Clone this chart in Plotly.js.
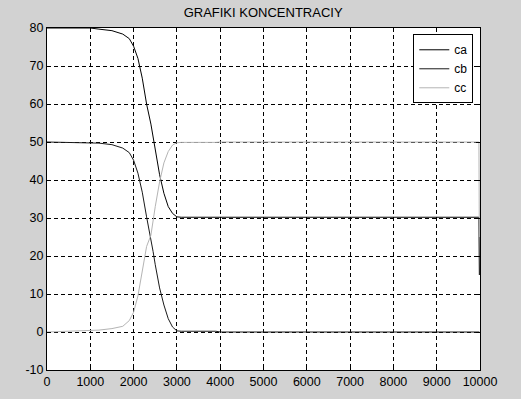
<!DOCTYPE html>
<html>
<head>
<meta charset="utf-8">
<script src="https://cdn.plot.ly/plotly-3.0.1.min.js"></script>
<style>html,body{margin:0;padding:0;background:#d2d2d2;}#chart{width:521px;height:399px;}</style>
</head>
<body>
<div id="chart"></div>
<script>
const titleText = "GRAFIKI KONCENTRACIY";
const seriesNames = ["ca", "cb", "cc"];
const tVals = [0, 1000, 1200, 1500, 1750, 1900, 2000, 2100, 2200, 2300, 2400, 2450, 2500, 2600, 2700, 2800, 2900, 3000, 3100, 3900, 4000, 9975, 9985];
const caVals = [80, 80, 79.7, 79.3, 78.4, 77.2, 75.2, 72, 66.8, 60, 54.7, 51.4, 48, 41.4, 36.5, 33, 31.2, 30.3, 30.2, 30.2, 30.2, 30.2, 15];
const cbVals = [50, 49.9, 49.7, 49.3, 48.4, 47.2, 45.2, 41.8, 36.8, 30.3, 24.8, 21.2, 17.7, 11.6, 7.1, 3.5, 1.3, 0.3, 0.2, 0.2, 0, 0, 0];
const ccVals = [0, 0.3, 0.5, 0.9, 1.5, 3.0, 5.2, 9.5, 16, 22.5, 25.5, 29.5, 33, 39.5, 44.5, 47.5, 49.2, 49.8, 49.9, 49.9, 50, 50, 25];
const xTicks = [0, 1000, 2000, 3000, 4000, 5000, 6000, 7000, 8000, 9000, 10000];
const yTicks = [-10, 0, 10, 20, 30, 40, 50, 60, 70, 80];
const lineColors = ["#000000", "#1a1a1a", "#b4b4b4"];

const ys = [caVals, cbVals, ccVals];
const traces = seriesNames.map((n, i) => ({
  x: tVals, y: ys[i], name: n, type: "scatter", mode: "lines",
  line: {color: lineColors[i], width: 1}
}));

const fontFam = "Liberation Sans, Arial, sans-serif";
const axisCommon = {
  showline: true, linecolor: "#000", linewidth: 1, mirror: "ticks",
  ticks: "inside", ticklen: 4, tickcolor: "#000",
  showgrid: true, gridcolor: "#000", gridwidth: 1, griddash: "4px,3px",
  zeroline: false, tickfont: {family: fontFam, size: 12.5, color: "#000"}
};
const layout = {
  width: 521, height: 399,
  paper_bgcolor: "#d2d2d2", plot_bgcolor: "#ffffff",
  margin: {l: 46.5, r: 41, t: 28, b: 29},
  title: {text: titleText, font: {family: fontFam, size: 13, color: "#000"}, x: 0.505, xanchor: "center", y: 0.97, yanchor: "middle"},
  xaxis: Object.assign({}, axisCommon, {range: [0, 10000], tickvals: xTicks, ticktext: xTicks.map(String)}),
  yaxis: Object.assign({}, axisCommon, {range: [-10, 80], tickvals: yTicks, ticktext: yTicks.map(String)}),
  showlegend: true,
  legend: {x: 0.9845, y: 0.9816, xanchor: "right", yanchor: "top", bgcolor: "#fff", bordercolor: "#000", borderwidth: 1,
    font: {family: fontFam, size: 12, color: "#000"}, tracegroupgap: 0, itemwidth: 30}
};
Plotly.newPlot("chart", traces, layout, {displayModeBar: false, staticPlot: true});
</script>
</body>
</html>
